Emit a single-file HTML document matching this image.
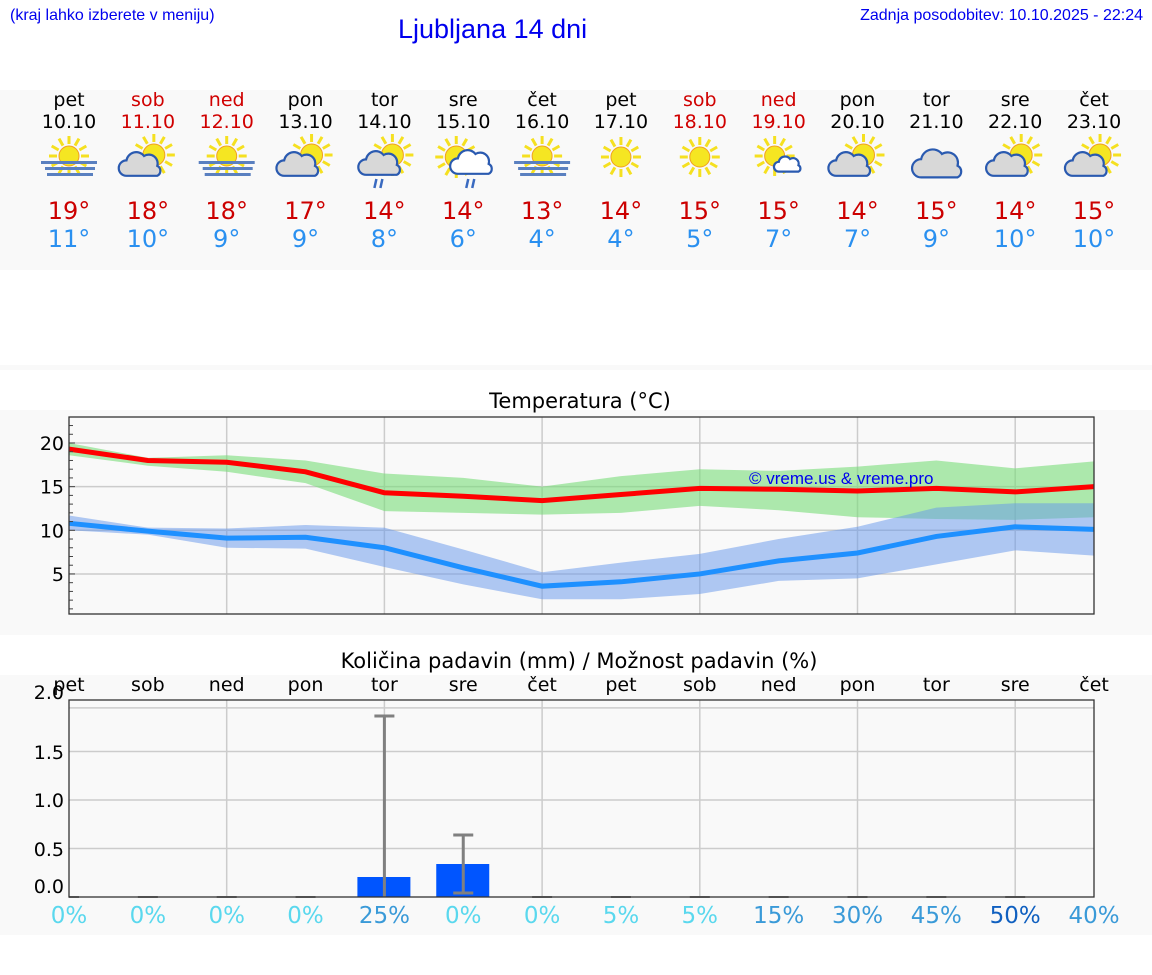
<!DOCTYPE html>
<html><head><meta charset="utf-8"><style>
body{margin:0;width:1152px;height:975px;background:#fff;font-family:"DejaVu Sans","Liberation Sans",sans-serif;position:relative;overflow:hidden}
.a{position:absolute}
.band{position:absolute;left:0;width:1152px;background:#f9f9f9}
.col{position:absolute;width:80px;text-align:center}
</style></head><body>
<div class="band" style="top:90px;height:180px"></div>
<div class="band" style="top:365px;height:5px"></div>
<div class="band" style="top:410px;height:225px"></div>
<div class="band" style="top:675px;height:260px"></div>
<div class="a" style="left:10px;top:7px;font:16px 'Liberation Sans',sans-serif;color:#0000ee">(kraj lahko izberete v meniju)</div>
<div class="a" style="left:398px;top:14px;font:27px 'Liberation Sans',sans-serif;color:#0000ee">Ljubljana 14 dni</div>
<div class="a" style="right:9px;top:7px;font:16px 'Liberation Sans',sans-serif;color:#0000ee">Zadnja posodobitev: 10.10.2025 - 22:24</div>
<div id="cols"></div>
<svg class="a" style="left:0;top:0" width="1152" height="975" id="s"></svg>
<script>
const X=i=>69+i*78.85;
const days=["pet","sob","ned","pon","tor","sre","čet","pet","sob","ned","pon","tor","sre","čet"];
const dates=["10.10","11.10","12.10","13.10","14.10","15.10","16.10","17.10","18.10","19.10","20.10","21.10","22.10","23.10"];
const mx=[19,18,18,17,14,14,13,14,15,15,14,15,14,15],mn=[11,10,9,9,8,6,4,4,5,7,7,9,10,10];
const icons=["fog","sc","fog","sc","scr","swr","fog","s","s","sw","sc","c","sc","sc"];
const pc=[0,0,0,0,25,0,0,5,5,15,30,45,50,40];
let h="";
for(let i=0;i<14;i++){const x=X(i)-40,red=(days[i]=="sob"||days[i]=="ned");
h+=`<div class="col" style="left:${x}px;top:89px;font-size:19px;color:${red?'#d00000':'#000'}">${days[i]}<br>${dates[i]}</div>`;
h+=`<div class="col" style="left:${x}px;top:197px;font-size:24px;color:#cc0000">${mx[i]}°</div>`;
h+=`<div class="col" style="left:${x}px;top:225px;font-size:24px;color:#2a90f0">${mn[i]}°</div>`;
h+=`<div class="col" style="left:${x}px;top:674px;font-size:19px;color:#000">${days[i]}</div>`;
const c=pc[i]==0||pc[i]==5?'#5ad8ee':pc[i]==50?'#1060c0':'#3a9ad8';
h+=`<div class="col" style="left:${x}px;top:903px;font-size:23px;color:${c}">${pc[i]}%</div>`;}
document.getElementById("cols").innerHTML=h;
let s="";
function sun(cx,cy,r){let o="";for(let k=0;k<12;k++){const a=k*Math.PI/6;o+=`<line x1="${cx+Math.cos(a)*(r+2)}" y1="${cy+Math.sin(a)*(r+2)}" x2="${cx+Math.cos(a)*(r+10)}" y2="${cy+Math.sin(a)*(r+10)}" stroke="#f5e020" stroke-width="3"/>`;}
return o+`<circle cx="${cx}" cy="${cy}" r="${r}" fill="#f5e622" stroke="#f0a020" stroke-width="1"/>`;}
function cloud(cx,cy,sc,fill){return `<path transform="translate(${cx},${cy}) scale(${sc})" d="M-14,8 a7,7 0 0 1 0,-14 a9,9 0 0 1 16,-4 a8,8 0 0 1 12,9 a5,5 0 0 1 0,9 z" fill="${fill}" stroke="#2a5ab0" stroke-width="${2.2/sc}"/>`;}
for(let i=0;i<14;i++){const x=X(i),y=158,t=icons[i];
if(t=="fog"){s+=sun(x,y-2,10);s+=`<rect x="${x-28}" y="${y+3}" width="56" height="3" fill="#5a80c0"/><rect x="${x-24}" y="${y+9}" width="50" height="3" fill="#5a80c0"/><rect x="${x-22}" y="${y+15}" width="46" height="3" fill="#5a80c0"/>`;}
else if(t=="sc"){s+=sun(x+6,y-3,11);s+=cloud(x-6,y+9,1.1,"#d8d8d8");}
else if(t=="scr"){s+=sun(x+8,y-3,11);s+=cloud(x-3,y+8,1.1,"#d8d8d8");s+=`<path d="M${x-8},${y+21}l-2,9M${x-2},${y+21}l-2,9" stroke="#3a6ac0" stroke-width="2.5"/>`;}
else if(t=="swr"){s+=sun(x-7,y-1,11);s+=cloud(x+10,y+7,1.1,"#fff");s+=`<path d="M${x+5},${y+21}l-2,9M${x+11},${y+21}l-2,9" stroke="#3a6ac0" stroke-width="2.5"/>`;}
else if(t=="s"){s+=sun(x,y-1,10);}
else if(t=="sw"){s+=sun(x-4,y-2,10);s+=cloud(x+10,y+8,0.7,"#fff");}
else if(t=="c"){s+=cloud(x+3,y+9,1.3,"#d8d8d8");}}
const Y=v=>443+(20-v)*8.73;
s+=`<rect x="69" y="417" width="1025" height="197" fill="#f9f9f9"/>`;
for(const v of[5,10,15,20])s+=`<line x1="69" x2="1094" y1="${Y(v)}" y2="${Y(v)}" stroke="#ccc" stroke-width="1.5"/>`;
for(let i=2;i<14;i+=2)s+=`<line x1="${X(i)}" x2="${X(i)}" y1="417" y2="614" stroke="#ccc" stroke-width="1.5"/>`;
function poly(a){return a.map((v,i)=>X(i)+","+Y(v)).join(" ");}
function band(u,l,c){return `<polygon points="${poly(u)} ${l.map((v,i)=>X(i)+","+Y(v)).reverse().join(" ")}" fill="${c}"/>`;}
s+=band([20,18.3,18.6,18,16.5,16,15,16.2,17,16.8,17.3,18,17.1,17.9],[18.6,17.4,16.7,15.4,12.2,12,11.8,12,12.8,12.3,11.5,11.3,11.2,11.5],"rgba(120,220,120,0.6)");
s+=band([11.7,10.3,10.2,10.6,10.3,7.8,5.2,6.3,7.3,9,10.4,12.6,13.1,13.1],[10,9.5,8,7.9,5.8,3.8,2.1,2.1,2.7,4.2,4.5,6.1,7.7,7.1],"rgba(100,150,235,0.5)");
s+=`<polyline points="${poly([19.3,18,17.8,16.7,14.3,13.9,13.4,14.1,14.8,14.7,14.5,14.8,14.4,15])}" fill="none" stroke="#ff0000" stroke-width="5"/>`;
s+=`<polyline points="${poly([10.8,9.9,9.1,9.2,8,5.7,3.6,4.1,5,6.5,7.4,9.3,10.4,10.1])}" fill="none" stroke="#1e90ff" stroke-width="5"/>`;
for(let v=1;v<=22;v++)s+=`<line x1="69" x2="${v%5==0?75:73}" y1="${Y(v)}" y2="${Y(v)}" stroke="#444"/>`;
s+=`<rect x="69" y="417" width="1025" height="197" fill="none" stroke="#333" stroke-width="1.3"/>`;
for(const v of[5,10,15,20])s+=`<text x="64" y="${Y(v)+7}" text-anchor="end" font-size="19">${v}</text>`;
s+=`<text x="580" y="408" text-anchor="middle" font-size="21">Temperatura (°C)</text>`;
s+=`<text x="749" y="484" font-family="Liberation Sans" font-size="17" fill="#0000ee">© vreme.us &amp; vreme.pro</text>`;
const P=v=>897-v*97;
s+=`<text x="579" y="668" text-anchor="middle" font-size="21">Količina padavin (mm) / Možnost padavin (%)</text>`;
for(const v of[0.5,1,1.5,1.95])s+=`<line x1="69" x2="1094" y1="${P(v)}" y2="${P(v)}" stroke="#ccc" stroke-width="1.5"/>`;
for(let i=2;i<14;i+=2)s+=`<line x1="${X(i)}" x2="${X(i)}" y1="700" y2="897" stroke="#ccc" stroke-width="1.5"/>`;
s+=`<rect x="${X(4)-27}" y="877" width="53" height="20" fill="#0055ff"/><rect x="${X(5)-27}" y="864" width="53" height="33" fill="#0055ff"/>`;
s+=`<path d="M${X(4)},716V897M${X(4)-10},716h20M${X(5)},835V893M${X(5)-10},835h20M${X(5)-10},893h20" stroke="#808080" stroke-width="3"/>`;
for(let i=0;i<13;i++)if(i!=4&&i!=5)s+=`<line x1="${Math.max(69,X(i)-10)}" x2="${X(i)+10}" y1="897" y2="897" stroke="#888" stroke-width="2"/>`;
s+=`<rect x="69" y="700" width="1025" height="197" fill="none" stroke="#333" stroke-width="1.3"/>`;
[["0.0",886],["0.5",849],["1.0",800],["1.5",752],["2.0",692]].forEach(([t,y])=>s+=`<text x="64" y="${y+7}" text-anchor="end" font-size="19">${t}</text>`);
document.getElementById("s").innerHTML=s;
</script>
</body></html>
